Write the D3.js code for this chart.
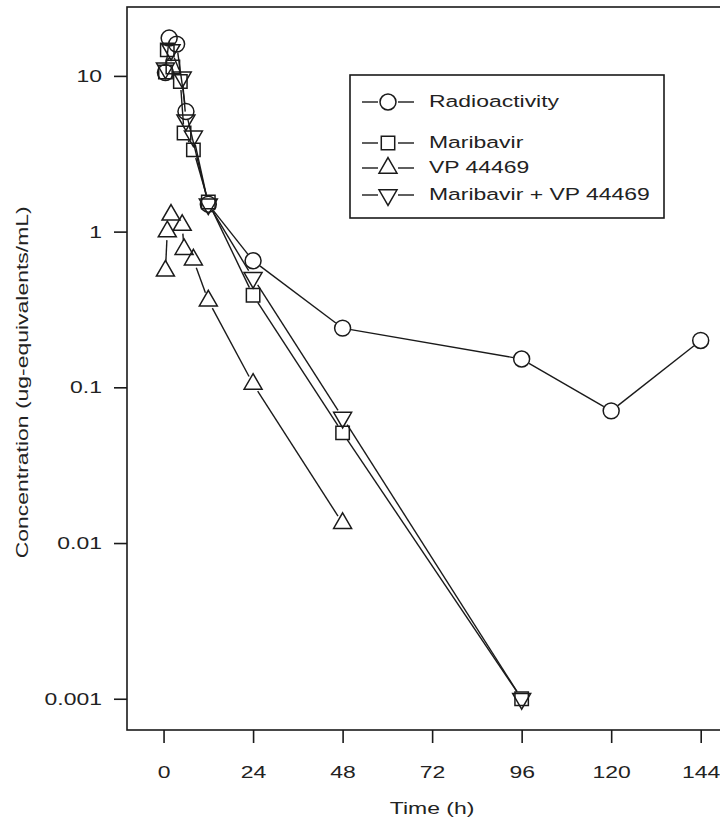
<!DOCTYPE html>
<html>
<head>
<meta charset="utf-8">
<script src="https://cdn.jsdelivr.net/npm/d3@7"></script>
<style>
  html, body { margin: 0; padding: 0; background: #fff; }
  svg text { font-family: "Liberation Sans", Arial, sans-serif; fill: #222; }
</style>
</head>
<body>
<div id="chart"></div>
<script>
// values (time in h, concentration in ug-eq/mL)
const radioTime   = [0.5, 1.5, 3.5, 6, 12, 24, 48, 96, 120, 144];
const radioConc   = [10.5, 17.5, 16, 5.9, 1.5, 0.65, 0.24, 0.152, 0.0706, 0.2];

const mbvTime     = [0.5, 1, 2.5, 4.5, 5.5, 8, 12, 24, 48, 96];
const mbvConc     = [10.6, 14.7, 11.4, 9.2, 4.3, 3.35, 1.55, 0.39, 0.051, 0.001];

const vpTime      = [0.5, 1, 2, 5, 5.5, 8, 12, 24, 48];
const vpConc      = [0.56, 1.0, 1.28, 1.1, 0.77, 0.66, 0.36, 0.105, 0.0134];

const sumTime     = [0.5, 2, 5, 6, 8, 12, 24, 48, 96];
const sumConc     = [11.2, 14.7, 9.8, 5.2, 4.1, 1.5, 0.505, 0.064, 0.001];

const seriesNames = ['Radioactivity', 'Maribavir', 'VP 44469', 'Maribavir + VP 44469'];
const xTicks = [0, 24, 48, 72, 96, 120, 144];
const yTicks = [0.001, 0.01, 0.1, 1, 10];
const yTickLabels = ['0.001', '0.01', '0.1', '1', '10'];

const W = 720, H = 823;
const ink = '#1a1a1a';
const textWide = 1.35; // the original lettering is stretched sideways

const svg = d3.select('#chart').append('svg')
  .attr('width', W)
  .attr('height', H);

// plot frame in pixels; the right side runs off the picture
const frame = { left: 127, right: 738, top: 7, bottom: 730 };

const x = d3.scaleLinear().domain([-9.8, 154]).range([frame.left, frame.right]);
const y = d3.scaleLog().domain([0.00063, 27.7]).range([frame.bottom, frame.top]);

// stretch a text along its own direction, keeping its anchor point
function widen(sel) {
  sel.each(function () {
    const t = d3.select(this);
    const tx = +t.attr('x') || 0, ty = +t.attr('y') || 0;
    const prev = t.attr('transform') || '';
    t.attr('x', 0).attr('y', 0)
      .attr('transform', `${prev} translate(${tx},${ty}) scale(${textWide},1)`);
  });
}

// frame
svg.append('rect')
  .attr('x', frame.left).attr('y', frame.top)
  .attr('width', frame.right - frame.left).attr('height', frame.bottom - frame.top)
  .attr('fill', 'none').attr('stroke', ink).attr('stroke-width', 1.6);

// axes: ticks sit outside the frame
const xAxis = svg.append('g')
  .attr('transform', `translate(0,${frame.bottom})`)
  .call(d3.axisBottom(x).tickValues(xTicks).tickSize(13).tickPadding(23).tickFormat(d3.format('d')));
xAxis.select('.domain').remove();

const yAxis = svg.append('g')
  .attr('transform', `translate(${frame.left},0)`)
  .call(d3.axisLeft(y).tickValues(yTicks).tickSize(13).tickPadding(12)
    .tickFormat((d, i) => yTickLabels[i]));
yAxis.select('.domain').remove();

svg.selectAll('.tick line').attr('stroke', ink).attr('stroke-width', 1.6);
svg.selectAll('.tick text').attr('font-size', 17).style('fill', '#222')
  .attr('font-family', '"Liberation Sans", Arial, sans-serif')
  .call(widen);

svg.append('text')
  .attr('x', x(72)).attr('y', 814)
  .attr('text-anchor', 'middle')
  .attr('font-size', 17)
  .text('Time (h)')
  .call(widen);

svg.append('text')
  .attr('transform', `translate(28,${y(0.1) - 5}) rotate(-90)`)
  .attr('text-anchor', 'middle')
  .attr('font-size', 17)
  .text('Concentration (ug-equivalents/mL)')
  .call(widen);

// marker shapes
const shapes = [
  d3.symbol().type(d3.symbolCircle).size(200),
  d3.symbol().type(d3.symbolSquare).size(180),
  d3.symbol().type(d3.symbolTriangle).size(140),
  d3.symbol().type(d3.symbolTriangle).size(140)
];
const rotations = [0, 0, 0, 180];

const series = [
  { name: seriesNames[0], t: radioTime, c: radioConc },
  { name: seriesNames[1], t: mbvTime, c: mbvConc },
  { name: seriesNames[2], t: vpTime, c: vpConc },
  { name: seriesNames[3], t: sumTime, c: sumConc }
];

// line with gaps round each point (like R's type = "b")
const gap = 8.5;
function gappedSegments(pts) {
  const segs = [];
  for (let i = 0; i < pts.length - 1; i++) {
    const [x1, y1] = pts[i], [x2, y2] = pts[i + 1];
    const len = Math.hypot(x2 - x1, y2 - y1);
    if (len <= 2 * gap) continue;
    const ux = (x2 - x1) / len, uy = (y2 - y1) / len;
    segs.push([x1 + ux * gap, y1 + uy * gap, x2 - ux * gap, y2 - uy * gap]);
  }
  return segs;
}

const plot = svg.append('g');

series.forEach((s, k) => {
  const pts = s.t.map((t, i) => [x(t), y(s.c[i])]);
  const g = plot.append('g');

  g.selectAll('line')
    .data(gappedSegments(pts))
    .enter()
    .append('line')
    .attr('x1', d => d[0]).attr('y1', d => d[1])
    .attr('x2', d => d[2]).attr('y2', d => d[3])
    .attr('stroke', ink)
    .attr('stroke-width', 1.4);

  g.selectAll('path')
    .data(pts)
    .enter()
    .append('path')
    .attr('d', shapes[k]())
    .attr('transform', d => `translate(${d[0]},${d[1]}) rotate(${rotations[k]})`)
    .attr('fill', 'none')
    .attr('stroke', ink)
    .attr('stroke-width', 1.5);
});

// legend
const legend = svg.append('g');
legend.append('rect')
  .attr('x', 350).attr('y', 75)
  .attr('width', 314).attr('height', 143)
  .attr('fill', '#fff').attr('stroke', ink).attr('stroke-width', 1.6);

const rowY = [102, 143, 168, 195];
seriesNames.forEach((name, k) => {
  const cy = rowY[k];
  legend.append('line')
    .attr('x1', 362).attr('x2', 378).attr('y1', cy).attr('y2', cy)
    .attr('stroke', ink).attr('stroke-width', 1.4);
  legend.append('line')
    .attr('x1', 398).attr('x2', 414).attr('y1', cy).attr('y2', cy)
    .attr('stroke', ink).attr('stroke-width', 1.4);
  legend.append('path')
    .attr('d', shapes[k]())
    .attr('transform', `translate(388,${cy}) rotate(${rotations[k]})`)
    .attr('fill', 'none').attr('stroke', ink).attr('stroke-width', 1.5);
  legend.append('text')
    .attr('x', 429).attr('y', cy + 1)
    .attr('dominant-baseline', 'middle')
    .attr('font-size', 17)
    .text(name)
    .call(widen);
});
</script>
</body>
</html>
